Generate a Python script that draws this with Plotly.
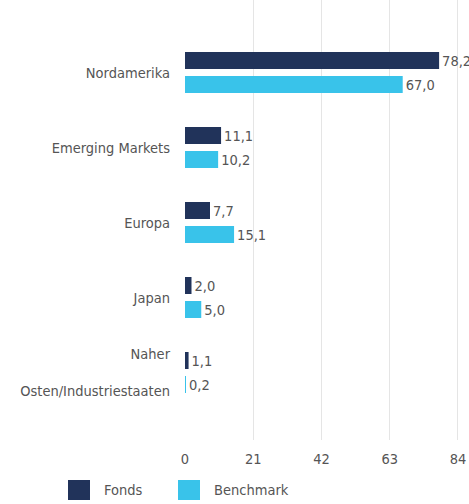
import plotly.graph_objects as go

categories = ["Nordamerika", "Emerging Markets", "Europa", "Japan", "Naher<br><br>Osten/Industriestaaten"]
fonds = [78.2, 11.1, 7.7, 2.0, 1.1]
benchmark = [67.0, 10.2, 15.1, 5.0, 0.2]
tick_vals = [0, 21, 42, 63, 84]
series_names = ["Fonds", "Benchmark"]
colors = ["#21335a", "#39c3ea"]

FONT = "DejaVu Sans Condensed, Liberation Sans Narrow, Arial Narrow, sans-serif"
TXT = "#555555"
FS = 14.5

fig = go.Figure()
for name, vals, col in zip(series_names, [fonds, benchmark], colors):
    fig.add_trace(go.Bar(
        y=categories, x=vals, orientation="h", name=name,
        marker=dict(color=col, line=dict(width=0)),
        text=vals, texttemplate="%{x:.1f}", textposition="outside",
        constraintext="none",
        textfont=dict(family=FONT, size=FS, color=TXT),
        cliponaxis=False, showlegend=False,
    ))

# manual legend (large square swatches)
leg_x = [68, 178]
for name, col, x0 in zip(series_names, colors, leg_x):
    fig.add_shape(type="rect", xref="paper", yref="paper",
                  x0=(x0 - 185) / 284, x1=(x0 + 22 - 185) / 284,
                  y0=(440 - 500) / 440, y1=(440 - 480) / 440,
                  fillcolor=col, line=dict(width=0))
    fig.add_annotation(xref="paper", yref="paper",
                       x=(x0 + 34 - 185) / 284, y=(440 - 490) / 440,
                       text=name, showarrow=False, xanchor="left", yanchor="middle",
                       font=dict(family=FONT, size=FS, color=TXT))

fig.update_layout(
    width=469, height=504,
    margin=dict(l=185, r=0, t=0, b=64),
    barmode="group", bargap=0.36, bargroupgap=0.29,
    separators=",.",
    plot_bgcolor="white", paper_bgcolor="white",
    font=dict(family=FONT, size=FS, color=TXT),
    xaxis=dict(range=[0, 87.4], tickvals=tick_vals, showgrid=True,
               gridcolor="#e5e5e5", gridwidth=1, zeroline=False,
               showline=False, ticks="", ticklabelstandoff=8, automargin=False,
               tickfont=dict(family=FONT, size=FS, color=TXT)),
    yaxis=dict(range=[4.9, -0.967], showgrid=False, zeroline=False,
               showline=False, ticks="", ticklabelstandoff=14, automargin=False,
               tickfont=dict(family=FONT, size=FS, color=TXT)),
)
fig.write_html("out.html")
